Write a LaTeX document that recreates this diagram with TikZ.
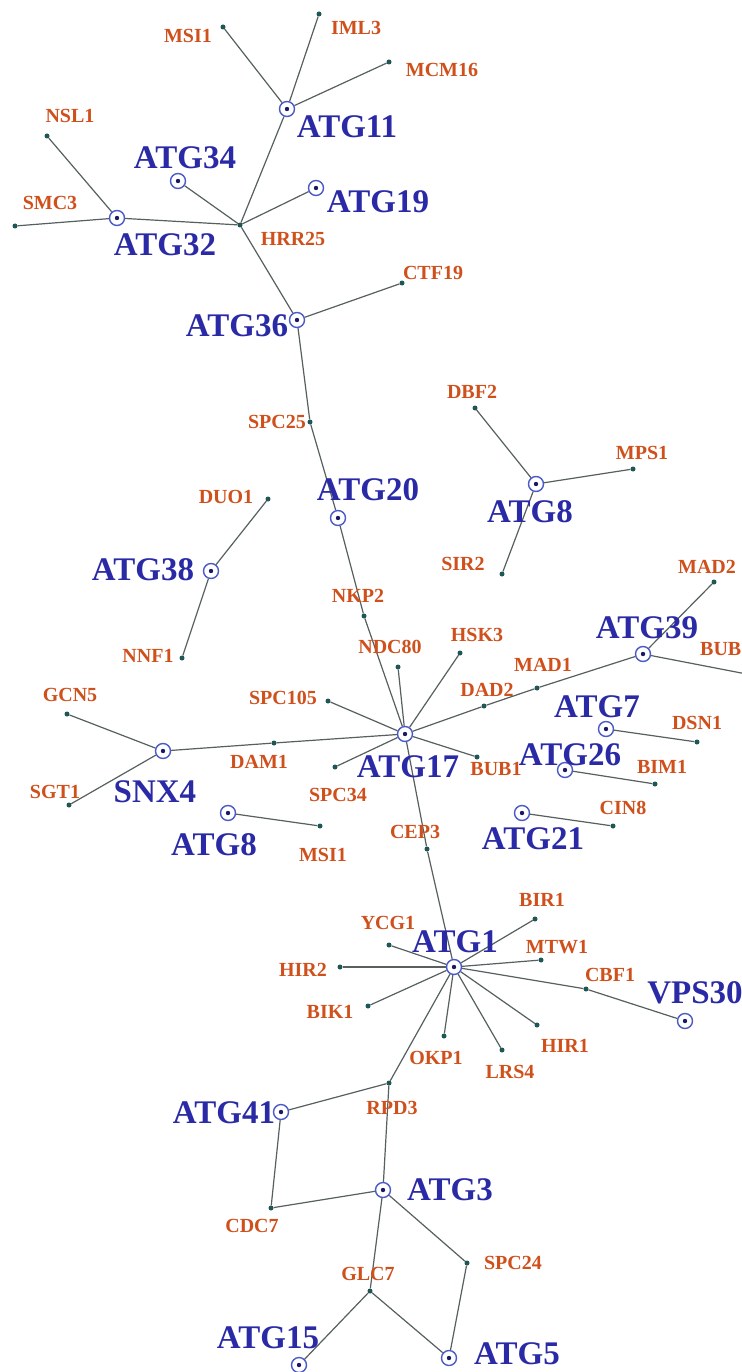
\documentclass[tikz,border=0pt]{standalone}
\usepackage{fontspec}
\setmainfont{Liberation Serif}[BoldFont={Liberation Serif Bold}]
\usetikzlibrary{backgrounds}
\definecolor{atgblue}{HTML}{2A2AA6}
\definecolor{genecol}{HTML}{D0501C}
\definecolor{edgecol}{HTML}{55605F}
\definecolor{dotcol}{HTML}{1F5656}
\definecolor{ringcol}{HTML}{4A5AC8}
\tikzset{
  atg/.style={circle, draw=ringcol, line width=1.4pt, fill=white, minimum size=15pt, inner sep=0pt,
    path picture={\fill[atgblue!60!black] (path picture bounding box.center) circle (2.2pt);}},
  gene/.style={circle, fill=dotcol, minimum size=5pt, inner sep=0pt},
  atgtext/.style={text=atgblue, font=\fontsize{33}{33}\selectfont\bfseries, inner sep=0pt},
  genetext/.style={text=genecol, font=\fontsize{20}{20}\selectfont\bfseries, inner sep=0pt},
  link/.style={draw=edgecol, line width=1.2pt},
}
\begin{document}
\begin{tikzpicture}[x=1pt,y=-1pt]
\useasboundingbox (0,0) rectangle (741,1372);

% ---------- protein nodes (ATG = ringed, others = dots)
\node[gene] (MSIa) at (223,27) {};
\node[gene] (IML3) at (319,14) {};
\node[gene] (MCM16) at (389,62) {};
\node[atg] (ATG11) at (287,109) {};
\node[atg] (ATG19) at (316,188) {};
\node[gene] (HRR25) at (240,225) {};
\node[atg] (ATG34) at (178,181) {};
\node[atg] (ATG32) at (117,218) {};
\node[gene] (NSL1) at (47,136) {};
\node[gene] (SMC3) at (15,226) {};
\node[atg] (ATG36) at (297,320) {};
\node[gene] (CTF19) at (402,283) {};
\node[gene] (SPC25) at (310,422) {};
\node[atg] (ATG20) at (338,518) {};
\node[gene] (NKP2) at (364,616) {};
\node[gene] (NDC80) at (398,667) {};
\node[gene] (HSK3) at (460,653) {};
\node[gene] (DBF2) at (475,408) {};
\node[atg] (ATG8a) at (536,484) {};
\node[gene] (MPS1) at (633,469) {};
\node[gene] (SIR2) at (502,574) {};
\node[gene] (DUO1) at (268,499) {};
\node[atg] (ATG38) at (211,571) {};
\node[gene] (NNF1) at (182,658) {};
\node[gene] (MAD2) at (714,582) {};
\node[atg] (ATG39) at (643,654) {};
\coordinate (BUBa) at (762,677);
\node[gene] (MAD1) at (537,688) {};
\node[gene] (DAD2) at (484,706) {};
\node[atg] (ATG17) at (405,734) {};
\node[gene] (SPC105) at (328,701) {};
\node[gene] (DAM1) at (274,743) {};
\node[gene] (SPC34) at (335,767) {};
\node[gene] (BUBb) at (477,757) {};
\node[atg] (SNX4) at (163,751) {};
\node[gene] (GCN5) at (67,714) {};
\node[gene] (SGT1) at (69,805) {};
\node[atg] (ATG8b) at (228,813) {};
\node[gene] (MSIb) at (320,826) {};
\node[atg] (ATG7) at (606,729) {};
\node[gene] (DSN1) at (697,742) {};
\node[atg] (ATG26) at (565,770) {};
\node[gene] (BIM1) at (655,784) {};
\node[atg] (ATG21) at (522,813) {};
\node[gene] (CIN8) at (613,826) {};
\node[gene] (CEP3) at (427,849) {};
\node[atg] (ATG1) at (454,967) {};
\node[gene] (YCG1) at (389,945) {};
\node[gene] (HIR2) at (340,967) {};
\node[gene] (BIK1) at (368,1006) {};
\node[gene] (BIR1) at (535,919) {};
\node[gene] (MTW1) at (541,960) {};
\node[gene] (CBF1) at (586,989) {};
\node[atg] (VPS30) at (685,1021) {};
\node[gene] (HIR1) at (537,1025) {};
\node[gene] (LRS4) at (502,1050) {};
\node[gene] (OKP1) at (444,1036) {};
\node[gene] (RPD3) at (389,1083) {};
\node[atg] (ATG41) at (281,1112) {};
\node[atg] (ATG3) at (383,1190) {};
\node[gene] (CDC7) at (271,1208) {};
\node[gene] (SPC24) at (467,1263) {};
\node[gene] (GLC7) at (370,1291) {};
\node[atg] (ATG15) at (299,1365) {};
\node[atg] (ATG5) at (449,1358) {};

% ---------- labels
\node[genetext] (lMSIa) at (188,36) {MSI1};
\node[genetext] (lIML3) at (356,28) {IML3};
\node[genetext] (lMCM16) at (442,70) {MCM16};
\node[atgtext] (lATG11) at (347,127) {ATG11};
\node[genetext] (lNSL1) at (70,116) {NSL1};
\node[atgtext] (lATG34) at (185,158) {ATG34};
\node[atgtext] (lATG19) at (378,202) {ATG19};
\node[genetext] (lSMC3) at (50,203) {SMC3};
\node[atgtext] (lATG32) at (165,245) {ATG32};
\node[genetext] (lHRR25) at (293,239) {HRR25};
\node[genetext] (lCTF19) at (433,273) {CTF19};
\node[atgtext] (lATG36) at (237,326) {ATG36};
\node[genetext] (lSPC25) at (277,422) {SPC25};
\node[genetext] (lDBF2) at (472,392) {DBF2};
\node[genetext] (lMPS1) at (642,453) {MPS1};
\node[atgtext] (lATG20) at (368,490) {ATG20};
\node[genetext] (lDUO1) at (226,497) {DUO1};
\node[atgtext] (lATG8a) at (530,512) {ATG8};
\node[atgtext] (lATG38) at (143,570) {ATG38};
\node[genetext] (lSIR2) at (463,564) {SIR2};
\node[genetext] (lNNF1) at (148,656) {NNF1};
\node[genetext] (lMAD2) at (707,567) {MAD2};
\node[genetext] (lNKP2) at (358,596) {NKP2};
\node[atgtext] (lATG39) at (647,628) {ATG39};
\node[genetext] (lHSK3) at (477,635) {HSK3};
\node[genetext] (lNDC80) at (390,647) {NDC80};
\node[genetext, anchor=west] (lBUBa) at (700,649) {BUB1};
\node[genetext] (lMAD1) at (543,665) {MAD1};
\node[genetext] (lGCN5) at (70,695) {GCN5};
\node[genetext] (lSPC105) at (283,698) {SPC105};
\node[genetext] (lDAD2) at (487,690) {DAD2};
\node[atgtext] (lATG7) at (597,707) {ATG7};
\node[genetext] (lDSN1) at (697,723) {DSN1};
\node[atgtext] (lATG17) at (408,767) {ATG17};
\node[genetext] (lDAM1) at (259,762) {DAM1};
\node[atgtext] (lATG26) at (570,755) {ATG26};
\node[genetext] (lBIM1) at (662,767) {BIM1};
\node[genetext] (lBUBb) at (496,769) {BUB1};
\node[atgtext] (lSNX4) at (155,792) {SNX4};
\node[genetext] (lSGT1) at (55,792) {SGT1};
\node[genetext] (lSPC34) at (338,795) {SPC34};
\node[atgtext] (lATG8b) at (214,845) {ATG8};
\node[genetext] (lMSIb) at (323,855) {MSI1};
\node[genetext] (lCIN8) at (623,808) {CIN8};
\node[genetext] (lCEP3) at (415,832) {CEP3};
\node[atgtext] (lATG21) at (533,839) {ATG21};
\node[genetext] (lBIR1) at (542,900) {BIR1};
\node[genetext] (lYCG1) at (388,923) {YCG1};
\node[atgtext] (lATG1) at (455,942) {ATG1};
\node[genetext] (lMTW1) at (557,947) {MTW1};
\node[genetext] (lHIR2) at (303,970) {HIR2};
\node[genetext] (lCBF1) at (610,975) {CBF1};
\node[atgtext] (lVPS30) at (695,993) {VPS30};
\node[genetext] (lBIK1) at (330,1012) {BIK1};
\node[genetext] (lHIR1) at (565,1046) {HIR1};
\node[genetext] (lOKP1) at (436,1058) {OKP1};
\node[genetext] (lLRS4) at (510,1072) {LRS4};
\node[genetext] (lRPD3) at (392,1108) {RPD3};
\node[atgtext] (lATG41) at (224,1113) {ATG41};
\node[atgtext] (lATG3) at (450,1190) {ATG3};
\node[genetext] (lCDC7) at (252,1226) {CDC7};
\node[genetext] (lSPC24) at (513,1263) {SPC24};
\node[genetext] (lGLC7) at (368,1274) {GLC7};
\node[atgtext] (lATG15) at (268,1338) {ATG15};
\node[atgtext] (lATG5) at (517,1354) {ATG5};

% ---------- connectors
\begin{scope}[on background layer]
\fill[white] (0,0) rectangle (741,1372);
\draw[link] (MSIa) -- (ATG11);
\draw[link] (IML3) -- (ATG11);
\draw[link] (MCM16) -- (ATG11);
\draw[link] (ATG11) -- (HRR25);
\draw[link] (ATG19) -- (HRR25);
\draw[link] (ATG34) -- (HRR25);
\draw[link] (ATG32) -- (HRR25);
\draw[link] (NSL1) -- (ATG32);
\draw[link] (SMC3) -- (ATG32);
\draw[link] (HRR25) -- (ATG36);
\draw[link] (ATG36) -- (CTF19);
\draw[link] (ATG36) -- (SPC25);
\draw[link] (SPC25) -- (ATG20);
\draw[link] (ATG20) -- (NKP2);
\draw[link] (NKP2) -- (ATG17);
\draw[link] (NDC80) -- (ATG17);
\draw[link] (HSK3) -- (ATG17);
\draw[link] (SPC105) -- (ATG17);
\draw[link] (ATG17) -- (DAD2) -- (MAD1) -- (ATG39);
\draw[link] (ATG39) -- (MAD2);
\draw[link] (ATG39) -- (BUBa);
\draw[link] (SNX4) -- (DAM1) -- (ATG17);
\draw[link] (SNX4) -- (GCN5);
\draw[link] (SNX4) -- (SGT1);
\draw[link] (ATG17) -- (SPC34);
\draw[link] (ATG17) -- (BUBb);
\draw[link] (ATG17) -- (CEP3) -- (ATG1);
\draw[link] (ATG8a) -- (DBF2);
\draw[link] (ATG8a) -- (MPS1);
\draw[link] (ATG8a) -- (SIR2);
\draw[link] (ATG38) -- (DUO1);
\draw[link] (ATG38) -- (NNF1);
\draw[link] (ATG7) -- (DSN1);
\draw[link] (ATG26) -- (BIM1);
\draw[link] (ATG21) -- (CIN8);
\draw[link] (ATG8b) -- (MSIb);
\draw[link] (ATG1) -- (YCG1);
\draw[link] (ATG1) -- (HIR2);
\draw[link] (ATG1) -- (BIK1);
\draw[link] (ATG1) -- (BIR1);
\draw[link] (ATG1) -- (MTW1);
\draw[link] (ATG1) -- (CBF1) -- (VPS30);
\draw[link] (ATG1) -- (HIR1);
\draw[link] (ATG1) -- (LRS4);
\draw[link] (ATG1) -- (OKP1);
\draw[link] (ATG1) -- (RPD3);
\draw[link] (RPD3) -- (ATG41);
\draw[link] (RPD3) -- (ATG3);
\draw[link] (ATG41) -- (CDC7) -- (ATG3);
\draw[link] (ATG3) -- (GLC7);
\draw[link] (ATG3) -- (SPC24) -- (ATG5);
\draw[link] (GLC7) -- (ATG15);
\draw[link] (GLC7) -- (ATG5);
\end{scope}
\end{tikzpicture}
\end{document}
